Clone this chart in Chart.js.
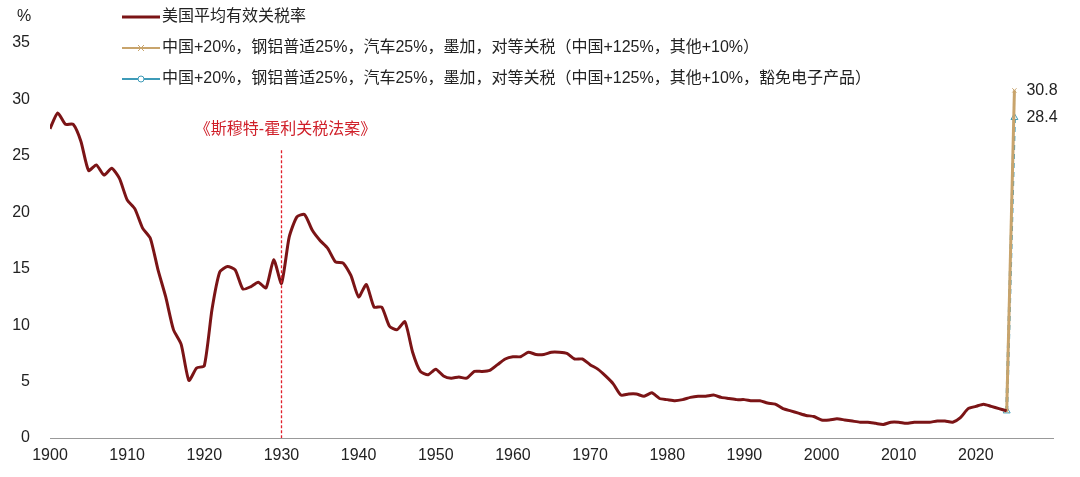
<!doctype html>
<html lang="zh">
<head>
<meta charset="UTF-8" />
<title>美国平均有效关税率</title>
<script src="https://cdn.jsdelivr.net/npm/chart.js"></script>
<style>
  body { margin: 0; background: #fff; }
  #wrap { width: 1080px; height: 477px; position: relative; }
</style>
</head>
<body>
<div id="wrap"><canvas id="c"></canvas></div>
<script>
const years = [];
for (let y = 1900; y <= 2024; y++) years.push(y);
const avgTariff = [
  27.4, 28.8, 27.8, 27.8, 26.3, 23.7, 24.2, 23.3, 23.9, 23.0,
  21.1, 20.3, 18.6, 17.7, 14.9, 12.5, 9.6, 8.3, 5.1, 6.2,
  6.4, 11.4, 14.7, 15.2, 14.9, 13.2, 13.4, 13.8, 13.3, 15.8,
  13.7, 17.8, 19.6, 19.8, 18.4, 17.5, 16.8, 15.6, 15.5, 14.4,
  12.5, 13.6, 11.6, 11.6, 9.9, 9.6, 10.3, 7.6, 5.9, 5.6,
  6.1, 5.5, 5.3, 5.4, 5.3, 5.9, 5.9, 6.0, 6.5, 7.0,
  7.2, 7.2, 7.6, 7.4, 7.4, 7.6, 7.6, 7.5, 7.0, 7.0,
  6.5, 6.1, 5.5, 4.8, 3.8, 3.9, 3.9, 3.7, 4.0, 3.5,
  3.4, 3.3, 3.4, 3.6, 3.7, 3.7, 3.8, 3.6, 3.5, 3.4,
  3.4, 3.3, 3.3, 3.1, 3.0, 2.6, 2.4, 2.2, 2.0, 1.9,
  1.6, 1.6, 1.7, 1.6, 1.5, 1.4, 1.4, 1.3, 1.2, 1.4,
  1.4, 1.3, 1.4, 1.4, 1.4, 1.5, 1.5, 1.4, 1.8, 2.6,
  2.8, 3.0, 2.8, 2.6, 2.4
];
const scenarioYears = [2024, 2025];
const scenarioA = [2.4, 30.8];
const scenarioB = [2.4, 28.4];
const seriesNames = [
  '美国平均有效关税率',
  '中国+20%，钢铝普适25%，汽车25%，墨加，对等关税（中国+125%，其他+10%）',
  '中国+20%，钢铝普适25%，汽车25%，墨加，对等关税（中国+125%，其他+10%，豁免电子产品）'
];
const eventYear = 1930;
const eventLabel = '《斯穆特-霍利关税法案》';

const colors = ['#7B1416', '#C8A46C', '#3E9BB8'];
const font = '"Liberation Sans", "Noto Sans CJK SC", Arial, sans-serif';

const xy = (xs, ys) => xs.map((x, i) => ({ x, y: ys[i] }));

const extras = {
  id: 'extras',
  afterDraw(chart) {
    const { ctx, scales: { x, y } } = chart;
    ctx.save();
    // event line
    const ex = Math.round(x.getPixelForValue(eventYear)) + 0.5;
    ctx.strokeStyle = '#E0202C';
    ctx.lineWidth = 1.3;
    ctx.setLineDash([3, 2]);
    ctx.beginPath();
    ctx.moveTo(ex, y.getPixelForValue(25.5));
    ctx.lineTo(ex, y.bottom);
    ctx.stroke();
    ctx.setLineDash([]);
    ctx.fillStyle = '#D0202A';
    ctx.font = '16px ' + font;
    ctx.textAlign = 'center';
    ctx.textBaseline = 'middle';
    ctx.fillText(eventLabel, ex + 4, 130);
    // end labels
    ctx.fillStyle = '#222';
    ctx.textAlign = 'left';
    const lx = x.getPixelForValue(2025) + 12;
    ctx.fillText(scenarioA[1].toFixed(1), lx, y.getPixelForValue(scenarioA[1]));
    ctx.fillText(scenarioB[1].toFixed(1), lx, y.getPixelForValue(scenarioB[1]));
    // % unit
    ctx.fillText('%', 17, 17);
    // legend
    seriesNames.forEach((name, i) => {
      const ly = 17 + i * 31;
      ctx.strokeStyle = colors[i];
      ctx.lineWidth = i === 0 ? 3 : 2;
      ctx.beginPath();
      ctx.moveTo(122, ly);
      ctx.lineTo(160, ly);
      ctx.stroke();
      if (i === 1) {
        ctx.lineWidth = 1;
        ctx.beginPath();
        ctx.moveTo(138, ly - 3); ctx.lineTo(144, ly + 3);
        ctx.moveTo(144, ly - 3); ctx.lineTo(138, ly + 3);
        ctx.stroke();
      } else if (i === 2) {
        ctx.lineWidth = 1;
        ctx.fillStyle = '#fff';
        ctx.beginPath();
        ctx.arc(141, ly, 3, 0, Math.PI * 2);
        ctx.fill();
        ctx.stroke();
      }
      ctx.fillStyle = '#222';
      ctx.fillText(name, 162, ly);
    });
    ctx.restore();
  }
};

new Chart(document.getElementById('c'), {
  type: 'line',
  data: {
    datasets: [
      {
        label: seriesNames[0],
        data: xy(years, avgTariff),
        borderColor: colors[0],
        borderWidth: 3,
        pointRadius: 0,
        tension: 0.2
      },
      {
        label: seriesNames[1],
        data: xy(scenarioYears, scenarioA),
        borderColor: colors[1],
        borderWidth: 3,
        pointStyle: 'crossRot',
        pointRadius: 3,
        pointBorderColor: colors[1],
        pointBorderWidth: 1
      },
      {
        label: seriesNames[2],
        data: xy(scenarioYears, scenarioB),
        borderColor: colors[2],
        borderWidth: 3,
        borderDash: [5, 4],
        pointStyle: 'triangle',
        pointRadius: 4,
        pointBackgroundColor: '#fff',
        pointBorderColor: colors[2],
        pointBorderWidth: 1
      }
    ]
  },
  options: {
    responsive: true,
    maintainAspectRatio: false,
    animation: false,
    layout: { padding: { top: 43, right: 27, left: 0, bottom: 0 } },
    plugins: { legend: { display: false }, tooltip: { enabled: false } },
    scales: {
      x: {
        type: 'linear',
        min: 1900,
        max: 2030,
        afterFit: s => { s.height = 39; },
        grid: { display: false, drawTicks: true, tickLength: 5, tickColor: '#999' },
        border: { color: '#999' },
        ticks: {
          stepSize: 10,
          color: '#222',
          font: { size: 16, family: font },
          callback: v => (v === 2030 ? '' : v)
        }
      },
      y: {
        min: 0,
        max: 35,
        afterFit: s => { s.width = 50; },
        grid: { display: false },
        border: { display: false },
        ticks: {
          stepSize: 5,
          color: '#222',
          padding: 12,
          font: { size: 16, family: font }
        }
      }
    }
  },
  plugins: [extras]
});
</script>
</body>
</html>
